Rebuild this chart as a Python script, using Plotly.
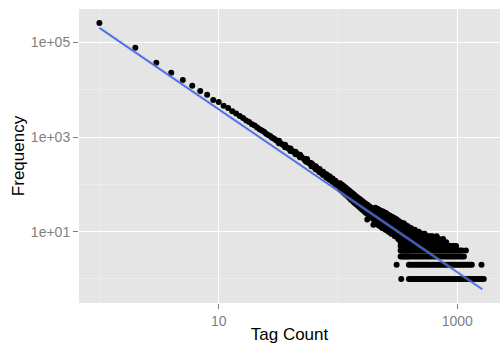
import numpy as np
import plotly.graph_objects as go

# ---------------- data ----------------
# head: every tag count 1..50
head_x = [1, 2, 3, 4, 5, 6, 7, 8, 9, 10, 11, 12, 13, 14, 15, 16, 17, 18, 19, 20,
          21, 22, 23, 24, 25, 26, 27, 28, 29, 30, 31, 32, 33, 34, 35, 36, 37, 38, 39, 40,
          41, 42, 43, 44, 45, 46, 47, 48, 49, 50]
head_freq = [258000, 77600, 37400, 23000, 16100, 12200, 9400, 7900, 6100, 5500,
             4600, 4100, 3530, 3170, 2780, 2530, 2250, 2080, 1860, 1750,
             1590, 1460, 1370, 1290, 1180, 1100, 1050, 970, 930, 870,
             830, 790, 740, 705, 672, 650, 612, 590, 560, 542,
             515, 495, 482, 460, 447, 428, 415, 398, 387, 372]

# scattered duplicates that thicken the band between 30 and 100
scatter_x = [32, 32, 36, 36, 40, 40, 44, 44, 48, 48, 55, 55, 60, 60, 65, 65, 70, 70,
             75, 75, 80, 80, 85, 85, 90, 90, 95, 95]
scatter_freq = [840, 745, 690, 612, 575, 510, 490, 432, 424, 374, 345, 298, 280, 242,
                242, 208, 211, 180, 184, 157, 164, 138, 148, 125, 133, 112, 120, 100]

mid_x = [52, 53, 54, 56, 57, 58, 60, 61, 62, 64, 65, 66, 68, 69, 70, 72, 73, 74, 76, 77,
         78, 80, 81, 82, 84, 85, 86, 88, 89, 90, 92, 93, 94, 96, 97, 98, 100]
mid_freq = [345, 318, 305, 300, 282, 286, 252, 262, 251, 226, 222, 224, 199, 210, 201,
            180, 172, 181, 160, 168, 163, 148, 141, 150, 133, 140, 137, 121, 118, 126,
            112, 119, 117, 101, 100, 108, 94]

spread_x = [104, 104, 106, 108, 108, 110, 112, 112, 114, 116, 116, 118, 120, 120, 122,
            124, 124, 126, 128, 128, 130, 132, 132, 134, 136, 136, 138, 140, 140, 142,
            144, 144, 146, 148, 148, 150, 152, 152, 154, 156, 156, 158, 160, 160, 162,
            164, 164, 166, 168, 168, 170, 172, 172, 174, 176, 176, 178, 180, 180, 182,
            184, 184, 186, 188, 188, 190, 192, 192, 194, 196, 196, 198, 200, 200]
spread_freq = [106, 78, 88, 98, 72, 81, 91, 66, 75, 85, 61, 69, 79, 57, 64,
               74, 52, 60, 69, 48, 56, 65, 45, 52, 61, 42, 49, 57, 39, 46,
               54, 37, 43, 51, 35, 41, 49, 33, 39, 46, 31, 37, 44, 29, 35,
               42, 28, 33, 40, 26, 31, 38, 25, 30, 37, 24, 29, 35, 23, 27,
               34, 22, 26, 32, 21, 25, 31, 20, 24, 30, 19, 23, 29, 18]

band_x = [205, 210, 215, 220, 225, 230, 235, 240, 245, 250, 255, 260, 265, 270, 275,
          280, 285, 290, 295, 300, 305, 310, 315, 320, 325, 330]
band_upper = [32, 31, 30, 29, 28, 27, 27, 26, 25, 25, 24, 23, 22, 22, 21,
              21, 20, 20, 19, 19, 18, 18, 17, 17, 16, 16]
band_mid1 = [24, 23, 22, 21, 21, 20, 20, 19, 19, 18, 18, 17, 17, 17, 16,
             16, 15, 15, 14, 14, 14, 13, 13, 13, 12, 12]
band_mid2 = [20, 19, 18, 17, 18, 17, 17, 16, 16, 15, 15, 15, 14, 14, 13,
             13, 13, 12, 12, 12, 11, 11, 11, 10, 10, 10]
band_lower = [15, 15, 14, 14, 13, 13, 12, 12, 12, 11, 11, 11, 10, 10, 10,
              9, 9, 9, 9, 8, 8, 8, 8, 7, 7, 7]

# tail: small integer frequencies form horizontal rows
tail_x = [335, 345, 355, 365, 375, 385, 393, 408, 424, 440, 457, 475, 493, 512, 532,
          553, 574, 596, 619, 643, 668, 694, 721, 749, 778, 808, 839, 872, 906, 941,
          977, 1015, 1054, 1095, 1137, 1181, 1227, 1275, 1324, 1375, 1429, 1484, 1542,
          1601, 1667]
tail_level = [1, 2, 3, 4, 5, 6, 7, 8, 9, 10, 11, 12, 13, 14, 15]
tail_start = [393, 393, 335, 335, 335, 335, 335, 335, 335, 335, 335, 335, 335, 335, 335]
tail_end = [1667, 1324, 1137, 1100, 1000, 815, 680, 620, 550, 486, 440, 408, 385, 365, 355]

extra_x = [310, 339, 1595, 176, 198, 672, 700, 760, 955, 1181]
extra_freq = [2, 1, 2, 18, 14, 8, 7, 7, 5, 4]

# fitted power law (log10 Frequency = a + b * log10 Tag Count)
fit_intercept = 5.31
fit_slope = -1.722
fit_x = [1, 1620]

# axis ticks
x_tickvals = [10, 1000]
x_ticktext = ["10", "1000"]
x_minor = [1, 100]
y_tickvals = [10, 1000, 100000]
y_ticktext = ["1e+01", "1e+03", "1e+05"]
y_minor = [1, 100, 10000]

# ---------------- assemble points ----------------
assert len(head_x) == len(head_freq)
assert len(scatter_x) == len(scatter_freq)
assert len(mid_x) == len(mid_freq)
assert len(spread_x) == len(spread_freq)

xs = head_x + scatter_x + mid_x + spread_x
ys = head_freq + scatter_freq + mid_freq + spread_freq
for col in (band_upper, band_mid1, band_mid2, band_lower):
    assert len(col) == len(band_x)
    xs += band_x
    ys += col
for lev, s, e in zip(tail_level, tail_start, tail_end):
    for tx in tail_x:
        if s <= tx <= e:
            xs.append(tx)
            ys.append(lev)
xs += extra_x
ys += extra_freq

fit_x_arr = np.array(fit_x, dtype=float)
fit_y = 10 ** (fit_intercept + fit_slope * np.log10(fit_x_arr))

FONT = "Liberation Sans, Arial, Helvetica, sans-serif"
GREY = "#7F7F7F"

fig = go.Figure()
fig.add_trace(go.Scatter(
    x=xs, y=ys, mode="markers",
    marker=dict(color="black", size=6, line=dict(width=0)),
    hoverinfo="skip", showlegend=False))
fig.add_trace(go.Scatter(
    x=fit_x_arr, y=fit_y, mode="lines",
    line=dict(color="rgba(153,153,153,0.45)", width=3),
    hoverinfo="skip", showlegend=False))
fig.add_trace(go.Scatter(
    x=fit_x_arr, y=fit_y, mode="lines",
    line=dict(color="#3366FF", width=1.4),
    hoverinfo="skip", showlegend=False))

fig.update_layout(
    width=500, height=344,
    margin=dict(l=79, r=0, t=9, b=41),
    paper_bgcolor="white",
    plot_bgcolor="#E5E5E5",
    font=dict(family=FONT),
    showlegend=False,
)
fig.update_xaxes(
    type="log", range=[-0.171, 3.358],
    tickmode="array", tickvals=x_tickvals, ticktext=x_ticktext,
    ticks="outside", ticklen=5, tickwidth=1, tickcolor=GREY,
    tickfont=dict(size=14, color=GREY, family=FONT),
    showgrid=True, gridcolor="white", gridwidth=1.1,
    minor=dict(tickmode="array", tickvals=x_minor, showgrid=True,
               gridcolor="#F2F2F2", gridwidth=0.6, ticks=""),
    zeroline=False, showline=False,
    title=dict(text="Tag Count", font=dict(size=17, color="black", family=FONT), standoff=4),
    automargin=False,
)
fig.update_yaxes(
    type="log", range=[-0.508, 5.708],
    tickmode="array", tickvals=y_tickvals, ticktext=y_ticktext,
    ticks="outside", ticklen=5, tickwidth=1, tickcolor=GREY,
    tickfont=dict(size=14, color=GREY, family=FONT),
    showgrid=True, gridcolor="white", gridwidth=1.1,
    minor=dict(tickmode="array", tickvals=y_minor, showgrid=True,
               gridcolor="#F2F2F2", gridwidth=0.6, ticks=""),
    zeroline=False, showline=False,
    title=dict(text="Frequency", font=dict(size=17, color="black", family=FONT), standoff=1),
    automargin=False,
)

fig.write_html("out.html",
               config={"displayModeBar": False, "staticPlot": True},
               post_script="document.body.style.margin='0px';document.body.style.padding='0px';")
